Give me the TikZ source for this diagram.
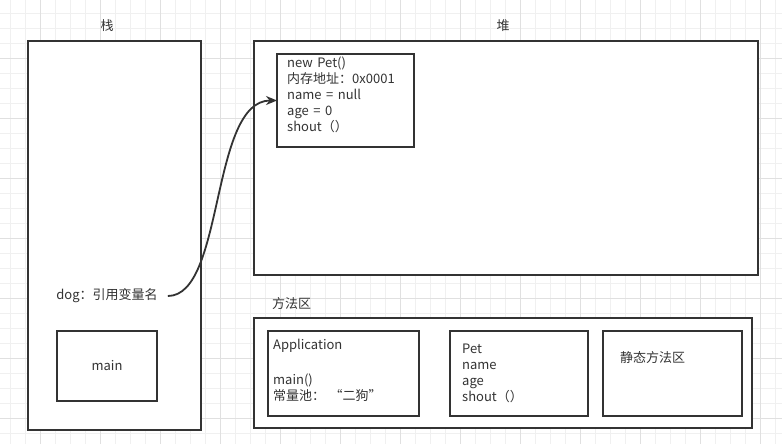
\documentclass[tikz,border=0pt]{standalone}
\usepackage{fontspec}
\setmainfont{Noto Sans CJK SC}
\usetikzlibrary{positioning, arrows.meta}
\definecolor{ink}{HTML}{333333}
\definecolor{gridminor}{HTML}{F0F0F0}
\definecolor{gridmajor}{HTML}{E0E0E0}

\begin{document}
\begin{tikzpicture}[
    x=1pt, y=-1pt,
    box/.style={draw=ink, line width=1.8pt, rectangle, anchor=north west, inner sep=0pt, outer sep=0pt, text=ink, font=\fontsize{13}{16}\selectfont},
    txt/.style={text=ink, font={\fontsize{13}{16}\selectfont\spaceskip=4.5pt}, align=left, inner sep=0pt},
    arr/.style={-{Stealth[length=11pt, width=9pt]}, draw=ink, line width=1.8pt}
]
    \useasboundingbox (0,0) rectangle (782,444);
    \fill[white] (0,0) rectangle (782,444);
    % grid
    \foreach \gx in {10.7,25.7,...,782} \draw[gridminor, line width=1pt] (\gx,0) -- (\gx,444);
    \foreach \gy in {13.3,28.3,...,444} \draw[gridminor, line width=1pt] (0,\gy) -- (782,\gy);
    \foreach \gx in {40.7,100.7,...,782} \draw[gridmajor, line width=1pt] (\gx,0) -- (\gx,444);
    \foreach \gy in {58.3,118.3,...,444} \draw[gridmajor, line width=1pt] (0,\gy) -- (782,\gy);

    % stack
    \node[box, fill=white, minimum width=173, minimum height=389] (stack) at (28,41) {};
    \node[txt] (stacklbl) at (107,26) {栈};
    \node[txt] (dog) at (107,296) {dog：引用变量名};
    \node[box, minimum width=100, minimum height=70] (mainf) at (57,331) {main};

    % heap
    \node[box, fill=white, minimum width=504, minimum height=234] (heap) at (254,41) {};
    \node[txt] (heaplbl) at (503,26) {堆};
    \node[box, minimum width=137, minimum height=93] (obj) at (277,54) {};
    \node[txt, anchor=north west] (objtxt) at ([shift={(10,3)}]obj.north west) {new Pet()\\内存地址：0x0001\\name = null\\age = 0\\shout（）};

    % method area
    \node[txt, anchor=west] (methodlbl) at (272,304) {方法区};
    \node[box, fill=white, minimum width=498, minimum height=110] (method) at (254,318) {};
    \node[box, minimum width=151, minimum height=85] (app) at (268,331) {};
    \node[txt, anchor=north west] (apptxt) at ([shift={(5,8)}]app.north west) {Application\\[19pt]main()\\常量池：~“二狗”};
    \node[box, minimum width=138, minimum height=85] (petcls) at (450,331) {};
    \node[txt, anchor=north west] (pettxt) at ([shift={(12,13)}]petcls.north west) {Pet\\name\\age\\shout（）};
    \node[box, minimum width=139, minimum height=85] (static) at (603,331) {};
    \node[txt, anchor=north west] (statictxt) at ([shift={(17,20)}]static.north west) {静态方法区};

    \draw[arr] ([xshift=10]dog.east) .. controls +(57,0) and +(-67,0) .. (obj.west);
\end{tikzpicture}
\end{document}
